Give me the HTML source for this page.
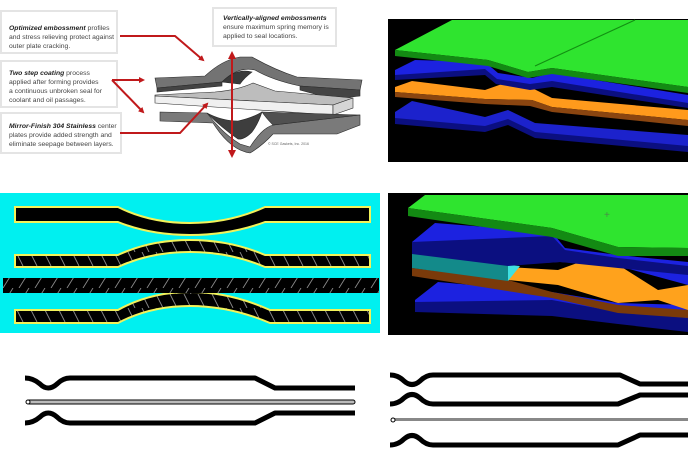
<!DOCTYPE html>
<html><head><style>
html,body{margin:0;padding:0;background:#fff;}
svg{display:block;}
text{font-family:"Liberation Sans",sans-serif;}
</style></head><body>
<svg width="688" height="459" viewBox="0 0 688 459" xmlns="http://www.w3.org/2000/svg">
<rect width="688" height="459" fill="#fff"/>
<defs>
<marker id="ah" markerWidth="6" markerHeight="6" refX="4" refY="3" orient="auto" markerUnits="userSpaceOnUse"><path d="M0,0 L6,3 L0,6 z" fill="#c0191b"/></marker>
<pattern id="hatchR" width="14" height="14" patternUnits="userSpaceOnUse"><rect width="14" height="14" fill="#000"/><path d="M2,0 L9,14" stroke="#8a8a8a" stroke-width="0.9"/></pattern>
<pattern id="hatchL" width="16" height="16" patternUnits="userSpaceOnUse"><rect width="16" height="16" fill="#000"/><path d="M3,16 L13,0" stroke="#8a8a8a" stroke-width="0.9"/></pattern>
</defs>

<!-- text boxes top-left -->
<g>
<rect x="1" y="11" width="116" height="42" fill="#fff" stroke="#e4e4e4" stroke-width="2"/>
<rect x="1" y="61" width="116" height="46" fill="#fff" stroke="#e4e4e4" stroke-width="2"/>
<rect x="1" y="113" width="120" height="40" fill="#fff" stroke="#e4e4e4" stroke-width="2"/>
<rect x="213" y="8" width="123" height="38" fill="#fff" stroke="#e4e4e4" stroke-width="2"/>
<g font-size="6.8" fill="#444">
<text x="9" y="30"><tspan font-weight="bold" font-style="italic" fill="#222">Optimized embossment</tspan> profiles</text>
<text x="9" y="39">and stress relieving protect against</text>
<text x="9" y="48">outer plate cracking.</text>
<text x="9" y="75"><tspan font-weight="bold" font-style="italic" fill="#222">Two step coating</tspan> process</text>
<text x="9" y="84">applied after forming provides</text>
<text x="9" y="93">a continuous unbroken seal for</text>
<text x="9" y="102">coolant and oil  passages.</text>
<text x="9" y="128"><tspan font-weight="bold" font-style="italic" fill="#222">Mirror-Finish 304 Stainless</tspan> center</text>
<text x="9" y="137">plates provide added strength and</text>
<text x="9" y="146">eliminate seepage between layers.</text>
<text x="223" y="20"><tspan font-weight="bold" font-style="italic" fill="#222">Vertically-aligned embossments</tspan></text>
<text x="223" y="29">ensure maximum spring memory is</text>
<text x="223" y="38">applied to seal locations.</text>
</g>
</g>

<!-- plates -->
<g stroke="#2a2a2a" stroke-width="0.6">
<!-- top plate -->
<path d="M155,78 L205,76 Q222,60 240,57 L252,57 Q275,70 297,77 L362,80 L360,90 L300,86 Q272,80 255,70 Q238,66 222,82 L157,88 Z" fill="#737373"/>
<path d="M157,88 L222,82 L222,86 L157,92 Z" fill="#444"/>
<path d="M300,86 L360,90 L360,96 L333,99 L300,90 Z" fill="#444"/>
<path d="M222,82 Q236,68 252,72 Q244,78 240,84 Z" fill="#3a3a3a"/>
<!-- center plate -->
<path d="M155,95 L215,92 Q238,90 253,83 L275,91 L353,98 L333,105 L155,96 Z" fill="#bdbdbd"/>
<path d="M155,96 L333,105 L333,115 L155,103 Z" fill="#f0f0f0"/>
<path d="M333,105 L353,98 L353,108 L333,115 Z" fill="#d5d5d5"/>
<!-- bottom plate -->
<path d="M160,112 L207,113 Q222,133 240,144 L250,147 Q262,128 273,125 L360,115 L360,125 L337,134 L273,134 Q262,146 250,153 Q230,150 213,123 L160,121 Z" fill="#7a7a7a"/>
<path d="M207,113 Q222,121 238,121 Q252,118 262,112 Q258,124 252,132 Q244,140 238,139 Q222,128 207,113 Z" fill="#3e3e3e"/>
<path d="M262,112 L360,115 L273,125 Q266,118 262,112 Z" fill="#505050"/>
</g>
<text x="268" y="145" font-size="3.5" fill="#666">© SCE Gaskets, Inc. 2016</text>

<!-- red arrows -->
<g stroke="#c0191b" stroke-width="2" fill="none">
<polyline points="120,36 175,36 203,60" marker-end="url(#ah)"/>
<line x1="112" y1="80" x2="143" y2="80" marker-end="url(#ah)"/>
<line x1="112" y1="80" x2="143" y2="112" marker-end="url(#ah)"/>
<polyline points="120,133 180,133 207,104" marker-end="url(#ah)"/>
<line x1="232" y1="58" x2="232" y2="150"/>
</g>
<path d="M228,59 L232,51 L236,59 Z M228,150 L232,158 L236,150 Z" fill="#c0191b"/>

<!-- top-right 3D -->
<rect x="388" y="19" width="300" height="143" fill="#000"/>
<path d="M395,112 L412,101 L485,117 L508,110 L535,123 L688,135 L688,150 L535,134 L508,121 L485,128 L395,120 Z" fill="#1c22cc"/>
<path d="M395,118 L485,126 L508,119 L535,132 L688,146 L688,152 L535,138 L508,125 L485,132 L395,124 Z" fill="#0b0f80"/>
<path d="M395,87 L412,81 L485,90 L502,84 L532,88 L552,98 L688,110 L688,120 L552,107 L532,100 L485,99 L395,92 Z" fill="#ff9a1c"/>
<path d="M395,92 L485,99 L532,100 L552,107 L688,120 L688,126 L552,112 L530,106 L485,104 L395,97 Z" fill="#8a4510"/>
<path d="M395,70 L415,60 L485,62 L498,73 L532,78 L552,73 L688,95 L688,104 L552,82 L530,85 L497,80 L485,70 L395,76 Z" fill="#1c22e0"/>
<path d="M395,75 L485,69 L497,79 L530,84 L552,81 L688,103 L688,108 L552,87 L530,90 L496,84 L485,75 L395,80 Z" fill="#0b0f80"/>
<path d="M395,50 L452,20 L688,20 L688,87 L552,68 L528,72 L488,60 Z" fill="#2fe42f"/>
<path d="M395,50 L488,60 L528,72 L552,68 L688,87 L688,93 L552,74 L528,78 L488,66 L395,56 Z" fill="#138a13"/>
<line x1="535" y1="66" x2="635" y2="20" stroke="#129012" stroke-width="1.2"/>

<!-- cyan panel -->
<rect x="0" y="193" width="380" height="140" fill="#00f0f0"/>
<g stroke="#f2f25a" stroke-width="2">
<path d="M15,207 L118,207 Q150,223 190,223 Q230,223 265,207 L370,207 L370,222 L265,222 Q230,235 190,235 Q150,235 118,222 L15,222 Z" fill="#000"/>
<path d="M15,255 L118,255 Q150,240 190,240 Q230,240 265,255 L370,255 L370,267 L265,267 Q230,252 190,252 Q150,252 118,267 L15,267 Z" fill="url(#hatchR)"/>
<path d="M15,310 L118,310 Q150,292 190,292 Q230,292 270,310 L370,310 L370,323 L270,323 Q230,306 190,306 Q150,306 118,323 L15,323 Z" fill="url(#hatchR)"/>
</g>
<rect x="3" y="278" width="376" height="15" fill="url(#hatchL)"/>

<!-- bottom-right 3D -->
<rect x="388" y="193" width="300" height="142" fill="#000"/>
<path d="M415,300 L438,282 L552,292 L618,303 L688,305 L688,322 L618,318 L552,306 L415,308 Z" fill="#1c22e0"/>
<path d="M415,302 L552,300 L618,312 L688,318 L688,332 L618,324 L552,316 L415,312 Z" fill="#0b0f80"/>
<path d="M412,268 L508,280 L552,292 L618,305 L688,310 L688,318 L618,313 L552,298 L412,276 Z" fill="#7a3a0a"/>
<path d="M508,267 L558,270 L580,262 L620,266 L658,290 L688,285 L688,310 L658,300 L618,303 L558,285 L508,280 Z" fill="#ffa21c"/>
<path d="M412,253 L508,265 L508,281 L412,268 Z" fill="#138a8a"/>
<path d="M508,265 L520,266 L508,281 Z" fill="#40e0e0"/>
<path d="M412,242 L435,223 L552,232 L565,248 L618,255 L688,262 L688,285 L618,266 L560,262 L508,265 L412,253 Z" fill="#1c22e0"/>
<path d="M412,242 L552,236 L565,250 L618,258 L688,266 L688,275 L618,268 L560,262 L508,266 L412,254 Z" fill="#0b0f80"/>
<path d="M408,208 L425,195 L688,195 L688,248 L618,247 L552,228 Z" fill="#2fe42f"/>
<path d="M408,208 L552,228 L618,247 L688,248 L688,256 L618,256 L552,237 L408,216 Z" fill="#138a13"/>
<text x="604" y="218" font-size="10" fill="#4a8a4a">+</text>

<!-- bottom line drawings -->
<g fill="none" stroke="#000" stroke-width="5" stroke-linejoin="round">
<path d="M25,378 Q33,378 40,384 Q48,392 57,384 Q63,378 70,378 L255,378 L275,388 L355,388"/>
<path d="M25,423 Q33,423 40,417 Q48,409 57,417 Q63,423 70,423 L255,423 L275,413 L355,413"/>
<path d="M390,375 Q398,375 404,381 Q412,388 420,381 Q426,375 433,375 L620,375 L640,384 L688,384"/>
<path d="M390,404 Q398,404 404,398 Q412,391 420,398 Q426,404 433,404 L618,404 L640,395 L688,395"/>
<path d="M390,445 Q398,445 404,439 Q412,432 420,439 Q426,445 433,445 L618,445 L640,435 L688,435"/>
</g>
<rect x="27" y="400" width="328" height="4" fill="#bbb" stroke="#000" stroke-width="1" rx="2"/>
<circle cx="28" cy="402" r="2" fill="#fff" stroke="#000"/>
<rect x="392" y="418" width="296" height="3" fill="#888"/>
<circle cx="393" cy="420" r="2" fill="#fff" stroke="#000"/>
</svg>
</body></html>
